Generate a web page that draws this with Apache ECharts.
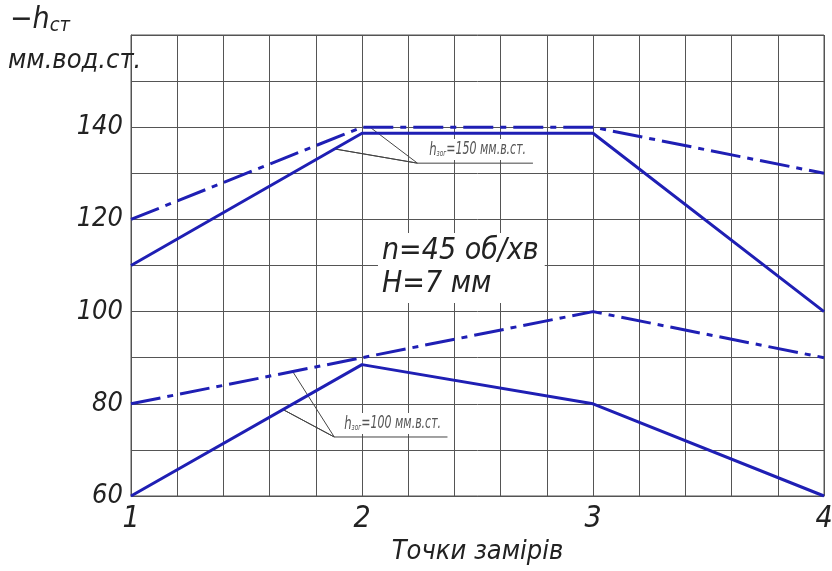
<!DOCTYPE html>
<html>
<head>
<meta charset="utf-8">
<script src="https://cdn.jsdelivr.net/npm/echarts@6/dist/echarts.min.js"></script>
<style>
  html, body { margin: 0; padding: 0; background: #fff; }
  #chart { width: 832px; height: 571px; }
</style>
</head>
<body>
<div id="chart"></div>
<script>
// точки замірів
const points = [1, 2, 3, 4];
// h_зог = 150 мм.в.ст.
const upperDashDot = [120, 140, 140, 130];
const upperSolid = [110, 138.7, 138.7, 100];
// h_зог = 100 мм.в.ст.
const lowerDashDot = [80, 90, 100, 90];
const lowerSolid = [60, 88.5, 80, 60];
// виноски (в координатах графіка)
const leader150 = [[2.04, 139.8], [2.24, 132.2], [1.88, 135.3], [2.24, 132.2], [2.74, 132.2]];
const leader100 = [[1.70, 87.0], [1.88, 72.8], [1.66, 78.7], [1.88, 72.8], [2.37, 72.8]];

const font = '"Liberation Sans Narrow", "DejaVu Sans Condensed", sans-serif';
const blue = '#1f1fb4';
const dashDot = [30, 7, 6, 7];

function pairs(ys) {
  return points.map((x, i) => [x, ys[i]]);
}

function curve(name, ys, dashed) {
  return {
    name: name,
    type: 'line',
    data: pairs(ys),
    symbol: 'none',
    silent: true,
    lineStyle: { color: blue, width: 3, type: dashed ? dashDot : 'solid' },
    z: 5
  };
}

function leader(name, pts) {
  return {
    name: name,
    type: 'line',
    data: pts,
    symbol: 'none',
    silent: true,
    lineStyle: { color: '#444', width: 1 },
    z: 4
  };
}

// підпис виноски, стиснутий по ширині
function leaderLabel(text, x, y) {
  return {
    type: 'text', x: x, y: y, scaleX: 0.72, z: 10,
    style: {
      text: '{h|h}{s|зог}{t|' + text + '}',
      backgroundColor: '#fff', padding: [2, 3, 1, 3],
      rich: {
        h: { fontFamily: font, fontStyle: 'italic', fontSize: 18, fill: '#555' },
        s: { fontFamily: font, fontStyle: 'italic', fontSize: 9, fill: '#555', padding: [8, 0, 0, 0] },
        t: { fontFamily: font, fontStyle: 'italic', fontSize: 17, fill: '#555' }
      }
    }
  };
}

const chart = echarts.init(document.getElementById('chart'));
chart.setOption({
  animation: false,
  grid: { left: 131, right: 8, top: 35, bottom: 75, outerBoundsMode: 'none', containLabel: false },
  xAxis: {
    type: 'value',
    min: 1,
    max: 4,
    interval: 0.2,
    name: 'Точки замірів',
    nameLocation: 'middle',
    nameGap: 42,
    nameTextStyle: { fontFamily: font, fontStyle: 'italic', fontSize: 27, color: '#222' },
    axisLine: { show: true, lineStyle: { color: '#555', width: 1 } },
    axisTick: { show: false },
    axisLabel: {
      margin: 8,
      fontFamily: font, fontStyle: 'italic', fontSize: 30, color: '#222',
      formatter: v => Math.abs(v - Math.round(v)) < 1e-6 ? String(Math.round(v)) : ''
    },
    splitLine: { show: true, lineStyle: { color: '#555', width: 1 } }
  },
  yAxis: {
    type: 'value',
    min: 60,
    max: 160,
    interval: 10,
    axisLine: { show: true, lineStyle: { color: '#555', width: 1 } },
    axisTick: { show: false },
    axisLabel: {
      margin: 8,
      fontFamily: font, fontStyle: 'italic', fontSize: 27, color: '#222',
      formatter: v => (v % 20 === 0 && v < 160) ? String(v) : ''
    },
    splitLine: { show: true, lineStyle: { color: '#555', width: 1 } }
  },
  graphic: [
    { type: 'rect', shape: { x: 131, y: 35, width: 693, height: 461 }, style: { fill: 'none', stroke: '#555', lineWidth: 1 }, z: 3, silent: true },
    {
      type: 'text', left: 10, top: 5, z: 10,
      style: {
        text: '{a|−h}{b|ст}',
        rich: {
          a: { fontFamily: font, fontStyle: 'italic', fontSize: 30, fill: '#222' },
          b: { fontFamily: font, fontStyle: 'italic', fontSize: 20, fill: '#222', padding: [12, 0, 0, 0] }
        }
      }
    },
    {
      type: 'text', left: 8, top: 47, z: 10,
      style: { text: 'мм.вод.ст.', font: 'italic 27px ' + font, fill: '#222' }
    },
    {
      type: 'text', left: 378, top: 233, z: 10,
      style: {
        text: 'n=45 об/хв\nH=7 мм',
        font: 'italic 30px ' + font, fill: '#222', lineHeight: 33,
        backgroundColor: '#fff', padding: [2, 6, 2, 4]
      }
    },
    leaderLabel('=150 мм.в.ст.', 427, 139),
    leaderLabel('=100 мм.в.ст.', 342, 413)
  ],
  series: [
    curve('upperDashDot', upperDashDot, true),
    curve('upperSolid', upperSolid, false),
    curve('lowerDashDot', lowerDashDot, true),
    curve('lowerSolid', lowerSolid, false),
    leader('leader150', leader150),
    leader('leader100', leader100)
  ]
});
</script>
</body>
</html>
